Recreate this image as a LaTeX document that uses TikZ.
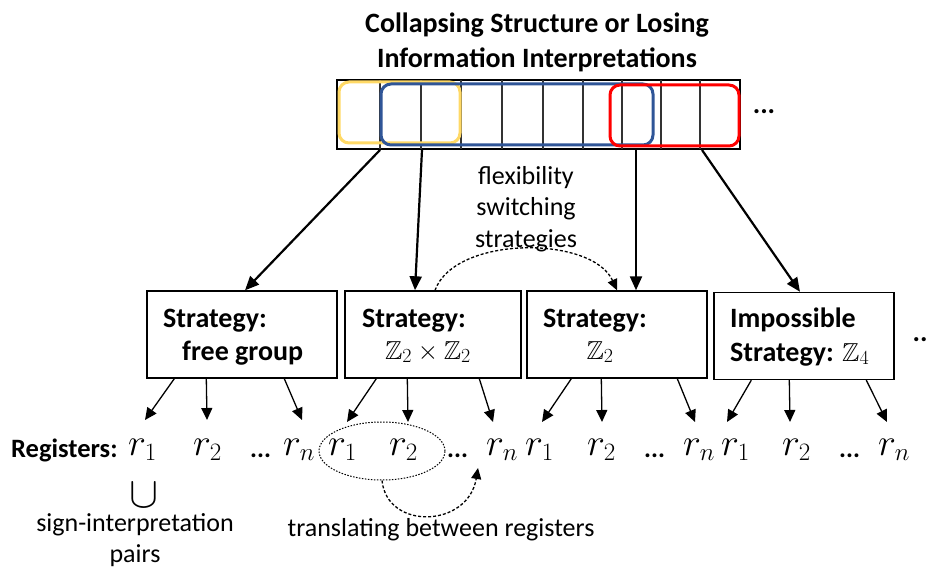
\RequirePackage{fix-cm}
\documentclass[tikz,border=0pt]{standalone}
\usepackage{amsmath,amssymb,graphicx}
\DeclareFontFamily{U}{msb}{}
\DeclareFontShape{U}{msb}{m}{n}{<-> msbm10}{}
\DeclareMathSizes{38}{38}{25}{19}
\DeclareMathSizes{26}{26}{20}{15}
\usepackage[no-math]{fontspec}
\setmainfont{Carlito}
\usetikzlibrary{arrows.meta,calc,shapes.geometric}

\definecolor{frameyellow}{HTML}{FFD966}
\definecolor{frameblue}{HTML}{2F5597}
\definecolor{framered}{HTML}{FF0000}
\definecolor{cellgray}{HTML}{333333}

\begin{document}
\begin{tikzpicture}[x=1pt,y=-1pt,
  txt/.style={font=\fontsize{26}{31.5}\selectfont, inner sep=0},
  btxt/.style={font=\fontsize{28}{31.5}\selectfont\bfseries, inner sep=0},
  bmath/.style={font=\fontsize{26}{31.5}\selectfont, inner sep=0},
  reg/.style={font=\fontsize{38}{40}\selectfont, inner sep=0, anchor=base west},
  dots/.style={font=\fontsize{26}{30}\selectfont\bfseries, inner sep=0, anchor=base west},
  stratbox/.style={draw, line width=1.4pt, minimum height=87pt, inner sep=0},
  bigarrow/.style={line width=2.2pt, -{Triangle[length=14pt,width=12pt]}},
  regarrow/.style={line width=1.3pt, -{Triangle[length=12pt,width=11pt]}},
  dasharrow/.style={line width=1.3pt, dash pattern=on 3pt off 2pt, -{Triangle[length=11pt,width=10pt]}},
  frame/.style={line width=3pt, rounded corners=10pt},
]
\useasboundingbox (0,0) rectangle (933,569);

% title
\node[font=\fontsize{28}{35}\selectfont\bfseries, inner sep=0, align=center] (title) at (537,42)
  {Collapsing Structure or Losing\\Information Interpretations};

% register array
\node[draw, line width=2pt, minimum width=403pt, minimum height=69pt, inner sep=0] (arr) at (538.5,114.5) {};
\foreach \x in {380,421,461,502,543,583,622,661,700}
  \draw[line width=1.6pt, cellgray] (\x,80) -- (\x,149);
\draw[frame, frameyellow] (339,82) rectangle (460,143);
\draw[frame, frameblue] (381,84) rectangle (653,145);
\draw[frame, framered] (610,85) rectangle (739,146);
\node[btxt] (moreA) at (764,112) {...};

% strategy boxes
\node[stratbox, minimum width=190pt] (s1) at (242,334.5) {};
\node[stratbox, minimum width=176pt] (s2) at (433,334.5) {};
\node[stratbox, minimum width=180pt] (s3) at (617,334.5) {};
\node[stratbox, minimum width=180pt, minimum height=87pt] (s4) at (804,336) {};

\node[btxt, anchor=base west] (s1a) at (163,327) {Strategy:};
\node[btxt, anchor=base west] (s1b) at (182,360) {free group};
\node[btxt, anchor=base west] (s2a) at (362,327) {Strategy:};
\node[bmath, anchor=base] (s2b) at (428,359) {$\mathbb{Z}_2\times\mathbb{Z}_2$};
\node[btxt, anchor=base west] (s3a) at (543,327) {Strategy:};
\node[bmath, anchor=base] (s3b) at (600,359) {$\mathbb{Z}_2$};
\node[btxt, anchor=base west] (s4a) at (730,327) {Impossible};
\node[btxt, anchor=base west] (s4b) at (730,361) {Strategy: \fontsize{26}{31.5}\selectfont$\mathbb{Z}_4$};
\node[btxt] (moreS) at (920,340) {..};

% arrows from the array to the strategies
\coordinate (o1) at (380,150);
\coordinate (o2) at (422,150);
\coordinate (o3) at (636,150);
\coordinate (o4) at (702,150);
\draw[bigarrow] (o1) -- ($(s1.north)+(3,0)$);
\draw[bigarrow] (o2) -- ($(s2.north)+(-18,0)$);
\draw[bigarrow] (o3) -- ($(s3.north)+(19,0)$);
\draw[bigarrow] (o4) -- ($(s4.north)+(-4,0)$);

% switching strategies
\node[txt, align=center] (flex) at (526,209) {flexibility\\switching\\strategies};
\draw[dasharrow] ($(s2.north)+(2,0)$) .. controls +(20,-55) and +(-25,-55) .. (s3.north);

% registers
\node[btxt, font=\fontsize{26.5}{31.5}\selectfont\bfseries, anchor=base west] (regs) at (11,457) {Registers:};
\node[reg] (r11) at (128,455) {$r_1$};
\node[reg] (r12) at (193,455) {$r_2$};
\node[dots] (d1) at (250,457) {...};
\node[reg] (r1n) at (283,455) {$r_n$};
\node[reg] (r21) at (328,455) {$r_1$};
\node[reg] (r22) at (389,455) {$r_2$};
\node[dots] (d2) at (447,457) {...};
\node[reg] (r2n) at (486,455) {$r_n$};
\node[reg] (r31) at (525,455) {$r_1$};
\node[reg] (r32) at (587,455) {$r_2$};
\node[dots] (d3) at (644,457) {...};
\node[reg] (r3n) at (683,455) {$r_n$};
\node[reg] (r41) at (721,455) {$r_1$};
\node[reg] (r42) at (782,455) {$r_2$};
\node[dots] (d4) at (839,457) {...};
\node[reg] (r4n) at (878,455) {$r_n$};

% arrow tips above the registers
\coordinate (t11) at (145,420); \coordinate (t12) at (207,420); \coordinate (t1n) at (302,420);
\coordinate (t21) at (347,422); \coordinate (t22) at (408,422); \coordinate (t2n) at (493,422);
\coordinate (t31) at (542,422); \coordinate (t32) at (602,422); \coordinate (t3n) at (695,422);
\coordinate (t41) at (727,422); \coordinate (t42) at (790,422); \coordinate (t4n) at (887,422);

\draw[regarrow] ($(s1.south west)+(28,0)$) -- (t11);
\draw[regarrow] ($(s1.south west)+(60,0)$) -- (t12);
\draw[regarrow] ($(s1.south west)+(138,0)$) -- (t1n);
\draw[regarrow] ($(s2.south west)+(32,0)$) -- (t21);
\draw[regarrow] ($(s2.south west)+(63,0)$) -- (t22);
\draw[regarrow] ($(s2.south west)+(135,0)$) -- (t2n);
\draw[regarrow] ($(s3.south west)+(45,0)$) -- (t31);
\draw[regarrow] ($(s3.south west)+(75,0)$) -- (t32);
\draw[regarrow] ($(s3.south west)+(151,0)$) -- (t3n);
\draw[regarrow] ($(s4.south west)+(38,0)$) -- (t41);
\draw[regarrow] ($(s4.south west)+(76,0)$) -- (t42);
\draw[regarrow] ($(s4.south west)+(153,0)$) -- (t4n);

% translating between registers
\node[draw, ellipse, line width=1pt, dash pattern=on 1.5pt off 1.5pt, minimum width=126pt, minimum height=58pt, inner sep=0] (pairring) at (382,451) {};
\coordinate (trtip) at (478,468);
\draw[dasharrow] (pairring.south) .. controls +(5,50) and +(-10,60) .. (trtip);
\node[txt] (translab) at (441,530) {translating between registers};

% sign-interpretation pairs
\node[inner sep=0] (cup) at (144,495) {\resizebox{29pt}{!}{$\cup$}};
\node[txt, anchor=base] (signlab) at (135,531) {sign-interpretation};
\node[txt, anchor=base] (pairslab) at (135,562) {pairs};
\end{tikzpicture}
\end{document}
